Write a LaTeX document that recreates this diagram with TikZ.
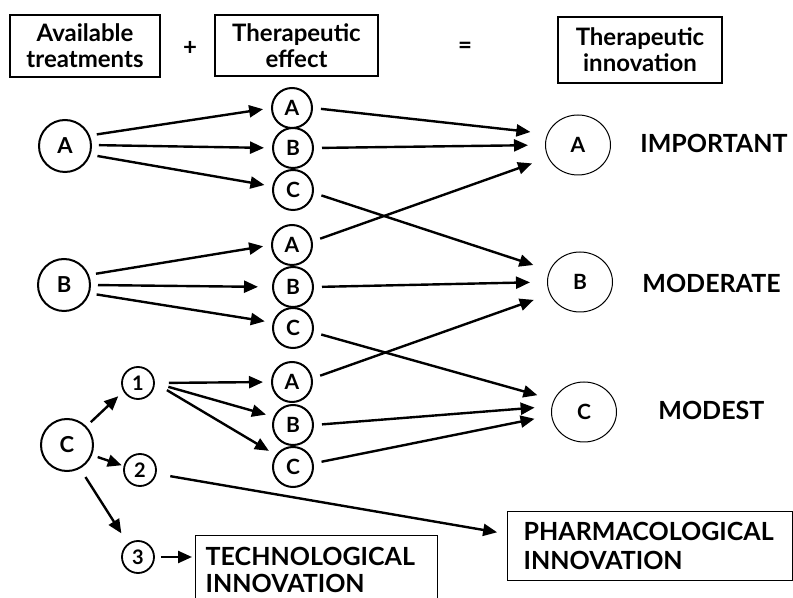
\documentclass[tikz,border=0pt]{standalone}
\usepackage{fontspec}
\setmainfont{Lato}
\usetikzlibrary{arrows.meta,shapes.geometric}
\begin{document}
\begin{tikzpicture}[x=0.5pt,y=-0.5pt,
  lc/.style={circle,draw,line width=1pt,minimum size=26pt,inner sep=0pt,font=\bfseries\fontsize{11}{12}\selectfont},
  mc/.style={circle,draw,line width=1pt,minimum size=20pt,inner sep=0pt,font=\bfseries\fontsize{10.5}{12}\selectfont},
  nc/.style={circle,draw,line width=0.9pt,minimum size=16pt,inner sep=0pt,font=\bfseries\fontsize{10}{12}\selectfont},
  rc/.style={ellipse,draw,line width=0.5pt,minimum width=32.5pt,minimum height=30pt,inner sep=0pt,font=\bfseries\fontsize{10.5}{12}\selectfont},
  hbox/.style={draw,line width=0.7pt,align=center,inner sep=0pt,font=\bfseries\fontsize{12}{13}\selectfont},
  lab/.style={anchor=west,inner sep=0pt,font=\bfseries\fontsize{12.5}{14}\selectfont},
  sym/.style={inner sep=0pt,font=\bfseries\fontsize{12}{14}\selectfont},
  ibox/.style={draw,line width=0.7pt,align=left,anchor=north west,inner ysep=0pt,font=\bfseries\fontsize{12.5}{14}\selectfont},
  arr/.style={line width=1.2pt,-{Triangle[length=7pt,width=6pt]}},
]
\useasboundingbox (0,0) rectangle (793,598);
\clip (0,0) rectangle (793,598);
\fill[white] (0,0) rectangle (793,598);

% header boxes
\node[hbox,minimum width=75pt,minimum height=31pt] (h1) at (85,46) {Available\\treatments};
\node[hbox,minimum width=81.5pt,minimum height=30.5pt] (h2) at (296.5,45.5) {Therapeutic\\effect};
\node[hbox,minimum width=82pt,minimum height=33pt] (h3) at (640,50) {Therapeutic\\innovation};
\node[sym] (plus) at (190,48) {+};
\node[sym] (eq) at (465,48) {=};

% left circles
\node[lc] (LA) at (65,146) {A};
\node[lc] (LB) at (64,285) {B};
\node[lc] (LC) at (67,445) {C};

% middle circles
\node[mc] (A1) at (292,108) {A};
\node[mc] (B1) at (293,148) {B};
\node[mc] (C1) at (293,190) {C};
\node[mc] (A2) at (292,245) {A};
\node[mc] (B2) at (293,287) {B};
\node[mc] (C2) at (293,328) {C};
\node[mc] (A3) at (292,382) {A};
\node[mc] (B3) at (293,425) {B};
\node[mc] (C3) at (293,467) {C};

% number circles
\node[nc] (n1) at (138,383) {1};
\node[nc] (n2) at (140,470) {2};
\node[nc] (n3) at (138,557) {3};

% right circles
\node[rc] (RA) at (578,145) {A};
\node[rc] (RB) at (580,282) {B};
\node[rc] (RC) at (584,412) {C};

% labels
\node[lab] (imp) at (640,143) {IMPORTANT};
\node[lab] (mod) at (642,283) {MODERATE};
\node[lab] (mst) at (658,410) {MODEST};

% bottom boxes
\node[ibox,text width=111pt,inner xsep=5pt,inner ysep=6pt,font=\bfseries\fontsize{12.5}{13.5}\selectfont] (tech) at (195,535)
  {TECHNOLOGICAL\\INNOVATION\rule[-12pt]{0pt}{12pt}};
\node[ibox,text width=126.5pt,inner xsep=8pt,minimum height=34.5pt,font=\bfseries\fontsize{12.5}{14.5}\selectfont] (ph) at (507,511)
  {PHARMACOLOGICAL\\INNOVATION};
\coordinate (techin) at (tech.north west |- n3);
\coordinate (phin) at ([yshift=-11.5pt]ph.north west);

% arrows from left circles
\begin{scope}[arr,shorten <=3.5pt,shorten >=4pt]
\draw (LA.23) -- (A1.west);
\draw (LA.2) -- (B1.west);
\draw (LA.-19) -- (C1.170);
\draw (LB.22) -- (A2.west);
\draw[shorten >=7pt] (LB.0) -- (B2.west);
\draw (LB.-18) -- (C2.165);
\end{scope}

% arrows middle -> right
\begin{scope}[arr,shorten <=4pt,shorten >=8.5pt]
\draw (A1.east) -- (RA.160);
\draw (B1.east) -- (RA.180);
\draw (A2.10) -- (RA.203);
\draw (C1.-8) -- (RB.159);
\draw (B2.east) -- (RB.180);
\draw (A3.10) -- (RB.202);
\draw (C2.-12) -- (RC.158);
\draw (B3.east) -- (RC.170);
\draw (C3.10) -- (RC.186);
\end{scope}

% arrows from 1
\begin{scope}[arr,shorten <=7pt,shorten >=4pt]
\draw (n1.east) -- (A3.west);
\draw (n1.east) -- (B3.157);
\draw (n1.east) -- (C3.145);
\end{scope}

% arrows from C
\draw[arr,shorten <=3pt,shorten >=3.5pt] (LC.44) -- (n1.210);
\draw[arr,shorten <=3pt,shorten >=1pt] (LC.-22) -- (n2.166);
\draw[arr,shorten <=5pt,shorten >=6pt] (LC.-61) -- (n3.127);
\draw[arr,shorten <=3pt,shorten >=1.5pt] (n3.east) -- (techin);
\draw[arr,shorten <=7pt,shorten >=5pt] (n2.-13) -- (phin);
\end{tikzpicture}
\end{document}
